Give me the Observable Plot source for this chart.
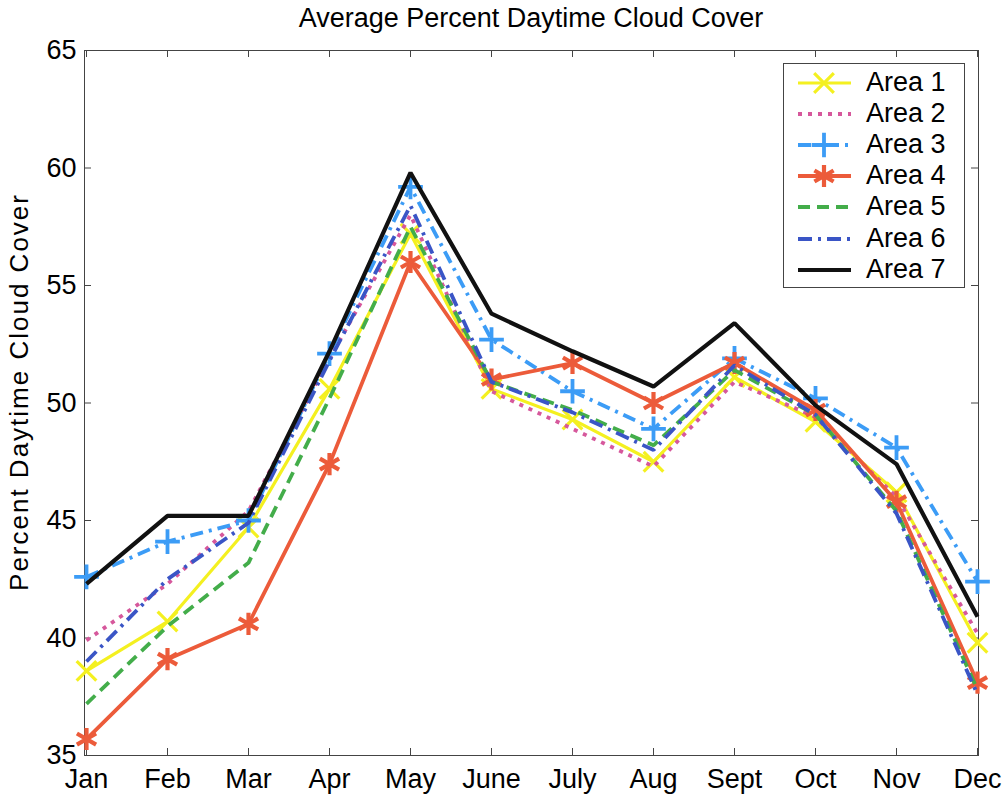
<!DOCTYPE html>
<html>
<head>
<meta charset="utf-8">
<script src="https://cdn.jsdelivr.net/npm/d3@7"></script>
<script src="https://cdn.jsdelivr.net/npm/@observablehq/plot@0.6"></script>
<style>
  body { margin: 0; background: #fff; font-family: "Liberation Sans", Arial, sans-serif; }
  #wrap { position: relative; width: 1008px; height: 794px; overflow: hidden; }
  #title { position: absolute; left: 84px; width: 894px; top: 5px; text-align: center; font-size: 27px; line-height: 27px; color: #000; white-space: nowrap; }
  #ylabel { position: absolute; left: 19px; top: 392px; transform: translate(-50%, -50%) rotate(-90deg); font-size: 26px; line-height: 26px; letter-spacing: 2px; color: #000; white-space: nowrap; }
  #legend { position: absolute; left: 783px; top: 63px; width: 180px; height: 223px; border: 1px solid #444; background: #fff; }
  .lrow { position: absolute; left: 0; height: 30px; width: 180px; }
  .lrow svg { position: absolute; left: 8px; top: 0; }
  .lrow span { position: absolute; left: 82px; top: 1px; font-size: 27px; line-height: 27px; color: #000; white-space: nowrap; }
</style>
</head>
<body>
<div id="wrap">
  <div id="title">Average Percent Daytime Cloud Cover</div>
  <div id="ylabel">Percent Daytime Cloud Cover</div>
</div>
<script>
// ---- data ----
const months = ["Jan", "Feb", "Mar", "Apr", "May", "June", "July", "Aug", "Sept", "Oct", "Nov", "Dec"];
const yTicks = [35, 40, 45, 50, 55, 60, 65];
const areaNames = ["Area 1", "Area 2", "Area 3", "Area 4", "Area 5", "Area 6", "Area 7"];
const area1 = [38.6, 40.7, 44.7, 50.6, 57.2, 50.6, 49.3, 47.5, 51.1, 49.2, 46.2, 39.8];
const area2 = [39.9, 42.3, 45.4, 51.9, 58.0, 50.5, 48.9, 47.3, 50.9, 49.4, 46.0, 40.2];
const area3 = [42.6, 44.1, 45.0, 52.1, 59.2, 52.7, 50.5, 48.9, 51.9, 50.2, 48.1, 42.4];
const area4 = [35.7, 39.1, 40.6, 47.4, 56.0, 51.0, 51.7, 50.0, 51.7, 49.7, 45.8, 38.1];
const area5 = [37.2, 40.5, 43.2, 50.2, 57.5, 50.9, 49.7, 48.2, 51.4, 49.5, 45.4, 37.8];
const area6 = [39.0, 42.5, 44.9, 51.8, 58.4, 50.9, 49.6, 48.0, 51.6, 49.5, 45.3, 37.6];
const area7 = [42.3, 45.2, 45.2, 52.2, 59.8, 53.8, 52.2, 50.7, 53.4, 49.9, 47.4, 40.9];

// ---- styles ----
const series = [area1, area2, area3, area4, area5, area6, area7];
const colors = ["#f4f020", "#d6589c", "#3c9cf6", "#ec5b3a", "#43ad4a", "#3a55c6", "#111111"];
const dashes = [null, "4,6", "13,6,3,6", null, "12,7", "14,6,3,6", null];
const widths = [3.2, 3.8, 3.8, 3.8, 3.8, 3.8, 4.2];
const symbols = ["times", null, "plus", "asterisk", null, null, null];
const symR = [9, 0, 8, 10.5, 0, 0, 0];
const symW = [3.2, 0, 3.8, 4.2, 0, 0, 0];

const rows = series.flatMap((vals, i) => vals.map((v, j) => ({area: areaNames[i], month: months[j], value: v})));

const marks = [
  Plot.frame({stroke: "#444", strokeWidth: 1}),
  Plot.tickY(yTicks, {y: d => d, insetRight: 887, stroke: "#444"}),
  Plot.tickY(yTicks, {y: d => d, insetLeft: 887, stroke: "#444"}),
  Plot.tickX(months, {x: d => d, insetTop: 698, stroke: "#444"}),
  Plot.tickX(months, {x: d => d, insetBottom: 698, stroke: "#444"}),
  Plot.axisY(yTicks, {tickSize: 0, tickPadding: 8, fontSize: 27, label: null}),
  Plot.axisX(months, {tickSize: 0, tickPadding: 13, fontSize: 27, label: null})
];
areaNames.forEach((name, i) => {
  const data = rows.filter(d => d.area === name);
  marks.push(Plot.line(data, {
    x: "month", y: "value", stroke: colors[i], strokeWidth: widths[i],
    strokeDasharray: dashes[i] || undefined, strokeLinejoin: "miter", strokeLinecap: "butt"
  }));
  if (symbols[i]) {
    marks.push(Plot.dot(data, {
      x: "month", y: "value", symbol: symbols[i], r: symR[i],
      stroke: colors[i], strokeWidth: symW[i], fill: "none"
    }));
  }
});

const chart = Plot.plot({
  width: 1008,
  height: 794,
  marginTop: 50,
  marginBottom: 39,
  marginLeft: 84,
  marginRight: 30,
  style: {fontFamily: "'Liberation Sans', Arial, sans-serif", color: "#000", background: "#fff"},
  x: {type: "point", domain: months, padding: 0, label: null},
  y: {domain: [35, 65], label: null},
  marks
});
const wrap = document.getElementById("wrap");
wrap.insertBefore(chart, wrap.firstChild);

// ---- legend ----
const legend = document.createElement("div");
legend.id = "legend";
const symMap = {times: d3.symbolTimes, plus: d3.symbolPlus, asterisk: d3.symbolAsterisk};
areaNames.forEach((name, i) => {
  const row = document.createElement("div");
  row.className = "lrow";
  row.style.top = (4 + i * 31.1) + "px";
  const svg = d3.create("svg").attr("width", 70).attr("height", 30);
  svg.append("line").attr("x1", 6).attr("x2", 59).attr("y1", 15).attr("y2", 15)
    .attr("stroke", colors[i]).attr("stroke-width", widths[i])
    .attr("stroke-dasharray", dashes[i]);
  if (symbols[i]) {
    const size = Math.PI * symR[i] * symR[i];
    svg.append("path").attr("transform", "translate(32,15)")
      .attr("d", d3.symbol(symMap[symbols[i]], size)())
      .attr("fill", "none").attr("stroke", colors[i]).attr("stroke-width", symW[i]);
  }
  row.appendChild(svg.node());
  const span = document.createElement("span");
  span.textContent = name;
  row.appendChild(span);
  legend.appendChild(row);
});
wrap.appendChild(legend);
</script>
</body>
</html>
